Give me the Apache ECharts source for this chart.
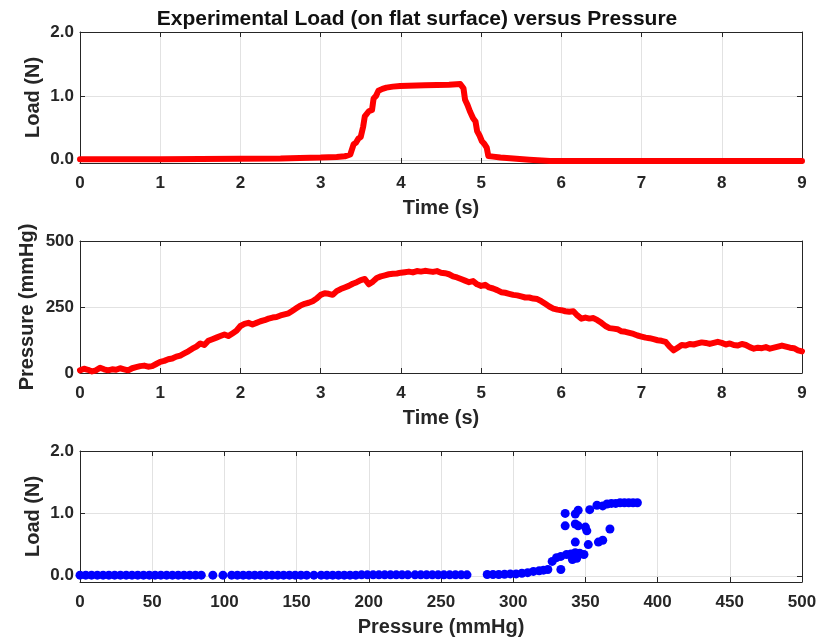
<!DOCTYPE html>
<html><head><meta charset="utf-8">
<script src="https://cdn.jsdelivr.net/npm/echarts@6/dist/echarts.min.js"></script>
<style>html,body{margin:0;padding:0;background:#fff}#c{width:834px;height:639px}</style>
</head><body><div id="c"></div>
<script>
// ---- Data ----
const titleText = 'Experimental Load (on flat surface) versus Pressure';

const loadTime = [0,0.5,1,1.5,2,2.5,2.74,3.0,3.2,3.3,3.37,3.41,3.44,3.47,3.50,3.53,3.55,3.60,3.64,3.66,3.69,3.72,3.77,3.82,3.90,3.99,4.3,4.6,4.74,4.78,4.80,4.83,4.86,4.90,4.93,4.95,4.98,5.01,5.04,5.07,5.09,5.15,5.24,5.4,5.6,5.86,6.2,6.5,7,7.5,8,8.5,9];
const loadValue = [0.01,0.01,0.01,0.012,0.015,0.02,0.03,0.035,0.045,0.055,0.085,0.24,0.27,0.33,0.36,0.52,0.68,0.76,0.78,0.96,1.0,1.08,1.11,1.13,1.145,1.155,1.165,1.175,1.185,1.12,0.94,0.86,0.76,0.65,0.6,0.45,0.38,0.29,0.25,0.19,0.06,0.05,0.035,0.02,0.0,-0.02,-0.02,-0.02,-0.02,-0.02,-0.02,-0.02,-0.02];

const pressTime = [0,0.05,0.1,0.15,0.2,0.25,0.3,0.35,0.4,0.45,0.5,0.55,0.6,0.65,0.7,0.75,0.8,0.85,0.9,0.95,
  1,1.05,1.1,1.15,1.2,1.25,1.3,1.35,1.4,1.45,1.5,1.55,1.6,1.65,1.7,1.75,1.8,1.85,1.9,1.95,
  2,2.05,2.1,2.15,2.2,2.25,2.3,2.35,2.4,2.45,2.5,2.55,2.6,2.65,2.7,2.75,2.8,2.85,2.9,2.95,
  3,3.05,3.1,3.15,3.2,3.25,3.3,3.35,3.4,3.45,3.5,3.55,3.6,3.65,3.7,3.75,3.8,3.85,3.9,3.95,
  4,4.05,4.1,4.15,4.2,4.25,4.3,4.35,4.4,4.45,4.5,4.55,4.6,4.65,4.7,4.75,4.8,4.85,4.9,4.95,
  5,5.05,5.1,5.15,5.2,5.25,5.3,5.35,5.4,5.45,5.5,5.55,5.6,5.65,5.7,5.75,5.8,5.85,5.9,5.95,
  6,6.05,6.1,6.15,6.2,6.25,6.3,6.35,6.4,6.45,6.5,6.55,6.6,6.65,6.7,6.75,6.8,6.85,6.9,6.95,
  7,7.05,7.1,7.15,7.2,7.25,7.3,7.35,7.4,7.45,7.5,7.55,7.6,7.65,7.7,7.75,7.8,7.85,7.9,7.95,
  8,8.05,8.1,8.15,8.2,8.25,8.3,8.35,8.4,8.45,8.5,8.55,8.6,8.65,8.7,8.75,8.8,8.85,8.9,8.95,
  9];
const pressValue = [10,16,12,6,10,20,14,10,14,12,18,14,10,18,22,26,28,24,26,34,
  42,46,52,55,62,66,74,82,92,100,112,106,122,128,134,140,146,140,150,160,
  178,186,190,184,190,196,200,206,210,212,218,222,226,236,246,256,262,266,272,282,
  296,302,300,296,310,318,324,330,338,344,352,356,336,346,360,366,370,374,376,377,
  380,382,384,381,386,384,387,385,383,386,380,378,374,366,362,356,350,344,348,336,
  330,334,324,320,314,306,304,300,296,294,290,286,286,282,280,272,262,252,244,240,
  238,234,232,234,218,206,210,206,208,200,190,178,170,168,166,158,156,152,148,142,
  138,134,132,128,124,122,118,100,86,96,106,104,110,108,112,116,114,110,114,118,
  114,108,112,106,104,110,106,98,92,96,94,98,92,96,100,104,100,96,94,86,
  82];

const scatterP = [0,4,8,12,16,20,24,28,32,36,40,44,48,52,56,60,64,68,72,76,80,84,92,99,105,109,113,117,121,125,129,133,137,141,145,149,153,157,162,167,171,175,179,183,187,191,195,199,203,207,211,215,219,223,227,232,236,240,244,248,252,256,260,264,268,282,286,290,294,298,302,306,310,314,318,321,324,327,330,333,337,340,343,346,349,341,344,333,336,343,345,336,343,345,350,351,343,352,359,362,367,353,358,362,365,368,371,374,377,380,383,386];
const scatterL = [0.01,0.01,0.01,0.01,0.01,0.01,0.01,0.01,0.01,0.01,0.01,0.01,0.01,0.01,0.01,0.01,0.01,0.01,0.01,0.01,0.01,0.01,0.01,0.01,0.01,0.01,0.01,0.01,0.01,0.01,0.01,0.01,0.01,0.01,0.01,0.01,0.01,0.01,0.01,0.01,0.01,0.01,0.01,0.01,0.01,0.01,0.015,0.015,0.015,0.015,0.015,0.015,0.015,0.015,0.015,0.015,0.015,0.015,0.015,0.015,0.015,0.015,0.015,0.015,0.015,0.02,0.02,0.02,0.025,0.03,0.03,0.04,0.05,0.07,0.08,0.09,0.1,0.23,0.29,0.31,0.34,0.35,0.37,0.36,0.34,0.26,0.28,0.1,1.0,0.99,1.05,0.8,0.83,0.8,0.78,0.72,0.54,0.5,0.54,0.57,0.75,1.06,1.13,1.12,1.15,1.16,1.16,1.17,1.17,1.17,1.17,1.17];

const loadTicks = [0, 2, 1];       // min, max, step of labelled load ticks
const pressTicks = [0, 500, 250];  // min, max, step of labelled pressure ticks

// ---- Chart ----
const FONT = '"Liberation Sans", Arial, Helvetica, sans-serif';
const TXT = '#262626';
const GRIDC = '#e2e2e2';
const lbl = {color: TXT, fontFamily: FONT, fontWeight: 'bold', fontSize: 17};
const nameStyle = {color: TXT, fontFamily: FONT, fontWeight: 'bold', fontSize: 20};
const line = {show: true, onZero: false, lineStyle: {color: TXT, width: 1}};
const tick = {show: true, inside: true, length: 5, lineStyle: {color: TXT}};
const f1 = v => v.toFixed(1);
const f0 = v => String(v);

const L = 80, R = 32;
// panel boxes
const P = [
  {top: 32, h: 131, ymin: -0.05},
  {top: 241, h: 132, ymin: 0},
  {top: 451, h: 131, ymin: -0.1}
];
const grids = [], xAxis = [], yAxis = [];
function panel(i, xr, yr, yFmt, xName, yName, yGap) {
  const p = P[i];
  // box grid
  grids.push({left: L, right: R, top: p.top, height: p.h});
  const gA = grids.length - 1;
  xAxis.push({gridIndex: gA, type: 'value', min: xr[0], max: xr[1], interval: xr[2], position: 'bottom',
    name: xName, nameLocation: 'middle', nameGap: 35, nameTextStyle: nameStyle,
    axisLine: line, axisTick: tick, axisLabel: Object.assign({margin: 12}, lbl),
    splitLine: {show: true, lineStyle: {color: GRIDC}}});
  const xA = xAxis.length - 1;
  xAxis.push({gridIndex: gA, type: 'value', min: xr[0], max: xr[1], interval: xr[2], position: 'top',
    axisLine: line, axisTick: tick, axisLabel: {show: false}, splitLine: {show: false}});
  yAxis.push({gridIndex: gA, type: 'value', min: p.ymin, max: yr[1], position: 'left',
    name: yName, nameLocation: 'middle', nameGap: yGap, nameRotate: 90, nameTextStyle: nameStyle,
    axisLine: line, axisTick: {show: false}, axisLabel: {show: false}, splitLine: {show: false}});
  const yA = yAxis.length - 1;
  yAxis.push({gridIndex: gA, type: 'value', min: p.ymin, max: yr[1], position: 'right',
    axisLine: line, axisTick: {show: false}, axisLabel: {show: false}, splitLine: {show: false}});
  // label grid covering [yr0, yr1] part of the box
  const hB = p.h * (yr[1] - yr[0]) / (yr[1] - p.ymin);
  grids.push({left: L, right: R, top: p.top, height: hB});
  const gB = grids.length - 1;
  xAxis.push({gridIndex: gB, type: 'value', min: xr[0], max: xr[1], show: false});
  yAxis.push({gridIndex: gB, type: 'value', min: yr[0], max: yr[1], interval: yr[2], position: 'left',
    axisLine: {show: false}, axisTick: tick,
    axisLabel: Object.assign({margin: 6, formatter: yFmt}, lbl),
    splitLine: {show: true, lineStyle: {color: GRIDC}}});
  yAxis.push({gridIndex: gB, type: 'value', min: yr[0], max: yr[1], interval: yr[2], position: 'right',
    axisLine: {show: false}, axisTick: tick, axisLabel: {show: false}, splitLine: {show: false}});
  return {x: xA, y: yA};
}
const a0 = panel(0, [0, 9, 1], loadTicks, f1, 'Time (s)', 'Load (N)', 37);
const a1 = panel(1, [0, 9, 1], pressTicks, f0, 'Time (s)', 'Pressure (mmHg)', 43);
const a2 = panel(2, [0, 500, 50], loadTicks, f1, 'Pressure (mmHg)', 'Load (N)', 37);

const chart = echarts.init(document.getElementById('c'), null, {renderer: 'canvas'});
chart.setOption({
  animation: false,
  backgroundColor: '#fff',
  title: {text: titleText, left: 'center', top: 4,
          textStyle: {color: '#111', fontFamily: FONT, fontWeight: 'bold', fontSize: 21}},
  grid: grids, xAxis, yAxis,
  series: [
    {type: 'line', xAxisIndex: a0.x, yAxisIndex: a0.y, showSymbol: false, symbol: 'none',
     lineStyle: {color: '#ff0000', width: 6, join: 'round', cap: 'round'},
     data: loadTime.map((t, i) => [t, loadValue[i]])},
    {type: 'line', xAxisIndex: a1.x, yAxisIndex: a1.y, showSymbol: false, symbol: 'none',
     lineStyle: {color: '#ff0000', width: 6, join: 'round', cap: 'round'},
     data: pressTime.map((t, i) => [t, pressValue[i]]), clip: false},
    {type: 'scatter', xAxisIndex: a2.x, yAxisIndex: a2.y, symbol: 'circle', symbolSize: 9,
     itemStyle: {color: '#0000ff', opacity: 1},
     data: scatterP.map((p, i) => [p, scatterL[i]]), clip: false}
  ]
});
</script></body></html>
